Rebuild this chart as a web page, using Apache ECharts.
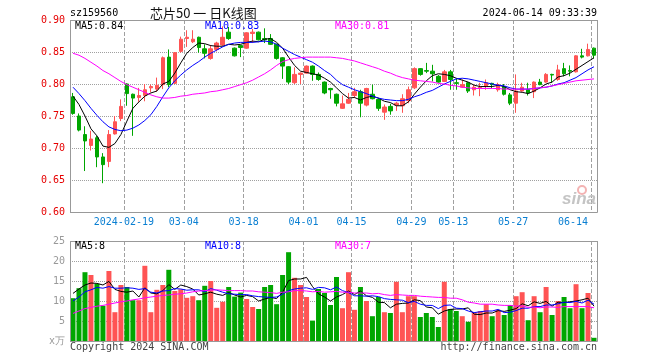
<!DOCTYPE html>
<html><head><meta charset="utf-8">
<script src="https://cdn.jsdelivr.net/npm/echarts@6/dist/echarts.min.js"></script>
<style>html,body{margin:0;padding:0;background:#fff}#c{width:660px;height:360px}</style>
</head><body><div id="c"></div>
<script>
const dates = ['2024-01-29','2024-01-30','2024-01-31','2024-02-01','2024-02-02','2024-02-05','2024-02-06','2024-02-07','2024-02-08','2024-02-19',
'2024-02-20','2024-02-21','2024-02-22','2024-02-23','2024-02-26','2024-02-27','2024-02-28','2024-02-29','2024-03-01','2024-03-04',
'2024-03-05','2024-03-06','2024-03-07','2024-03-08','2024-03-11','2024-03-12','2024-03-13','2024-03-14','2024-03-15','2024-03-18',
'2024-03-19','2024-03-20','2024-03-21','2024-03-22','2024-03-25','2024-03-26','2024-03-27','2024-03-28','2024-03-29','2024-04-01',
'2024-04-02','2024-04-03','2024-04-08','2024-04-09','2024-04-10','2024-04-11','2024-04-12','2024-04-15','2024-04-16','2024-04-17',
'2024-04-18','2024-04-19','2024-04-22','2024-04-23','2024-04-24','2024-04-25','2024-04-26','2024-04-29','2024-04-30','2024-05-06',
'2024-05-07','2024-05-08','2024-05-09','2024-05-10','2024-05-13','2024-05-14','2024-05-15','2024-05-16','2024-05-17','2024-05-20',
'2024-05-21','2024-05-22','2024-05-23','2024-05-24','2024-05-27','2024-05-28','2024-05-29','2024-05-30','2024-05-31','2024-06-03',
'2024-06-04','2024-06-05','2024-06-06','2024-06-07','2024-06-11','2024-06-12','2024-06-13','2024-06-14'];

const tickDates = ['2024-02-19','2024-03-04','2024-03-18','2024-04-01','2024-04-15','2024-04-29','2024-05-13','2024-05-27','2024-06-14'];
const tickLabels = ['2024-02-19','03-04','03-18','04-01','04-15','04-29','05-13','05-27','06-14'];
const priceTickLabels = ['0.60','0.65','0.70','0.75','0.80','0.85','0.90'];
const volTickLabels = ['x万','5','10','15','20','25'];

const open = [0.780,0.750,0.721,0.704,0.716,0.686,0.679,0.722,0.746,0.800,
0.784,0.779,0.782,0.794,0.792,0.799,0.842,0.801,0.851,0.871,
0.866,0.873,0.855,0.840,0.854,0.861,0.881,0.856,0.860,0.856,
0.879,0.881,0.871,0.871,0.862,0.841,0.827,0.802,0.815,0.817,
0.828,0.815,0.803,0.793,0.784,0.762,0.770,0.782,0.788,0.767,
0.784,0.776,0.756,0.765,0.767,0.766,0.774,0.794,0.824,0.821,
0.820,0.812,0.804,0.819,0.802,0.795,0.802,0.791,0.794,0.796,
0.801,0.791,0.796,0.783,0.770,0.789,0.791,0.788,0.803,0.803,
0.815,0.807,0.824,0.821,0.819,0.844,0.844,0.856];
const close = [0.754,0.728,0.711,0.714,0.686,0.674,0.721,0.741,0.765,0.785,
0.778,0.782,0.791,0.796,0.798,0.841,0.799,0.849,0.870,0.873,
0.870,0.857,0.848,0.855,0.864,0.873,0.871,0.844,0.857,0.880,
0.881,0.869,0.869,0.862,0.840,0.828,0.803,0.815,0.817,0.828,
0.815,0.807,0.786,0.791,0.770,0.769,0.776,0.788,0.770,0.793,
0.777,0.762,0.764,0.758,0.770,0.777,0.791,0.824,0.815,0.820,
0.816,0.803,0.819,0.807,0.801,0.799,0.789,0.795,0.795,0.802,
0.799,0.799,0.784,0.770,0.789,0.795,0.786,0.803,0.799,0.815,
0.814,0.822,0.816,0.820,0.844,0.842,0.854,0.845];
const high = [0.786,0.754,0.734,0.727,0.719,0.692,0.728,0.750,0.776,0.801,
0.785,0.794,0.800,0.799,0.810,0.843,0.854,0.850,0.874,0.884,
0.884,0.874,0.862,0.861,0.866,0.890,0.889,0.857,0.861,0.881,
0.886,0.882,0.887,0.878,0.863,0.842,0.828,0.826,0.818,0.829,
0.829,0.818,0.804,0.794,0.785,0.782,0.786,0.794,0.791,0.794,
0.799,0.778,0.768,0.769,0.772,0.784,0.796,0.826,0.825,0.833,
0.830,0.814,0.822,0.822,0.809,0.807,0.803,0.799,0.802,0.807,
0.802,0.802,0.800,0.786,0.815,0.802,0.802,0.804,0.808,0.817,
0.816,0.830,0.833,0.829,0.845,0.855,0.863,0.857];
const low = [0.752,0.726,0.664,0.696,0.670,0.645,0.670,0.721,0.742,0.766,
0.719,0.772,0.773,0.787,0.788,0.792,0.795,0.800,0.849,0.858,
0.864,0.849,0.840,0.838,0.851,0.859,0.869,0.843,0.842,0.855,
0.864,0.868,0.864,0.861,0.838,0.808,0.800,0.800,0.800,0.816,
0.805,0.805,0.784,0.777,0.765,0.761,0.769,0.778,0.748,0.765,
0.776,0.758,0.744,0.752,0.758,0.755,0.770,0.792,0.813,0.817,
0.804,0.802,0.803,0.791,0.791,0.794,0.786,0.782,0.781,0.791,
0.793,0.788,0.782,0.767,0.755,0.788,0.782,0.778,0.798,0.802,
0.802,0.805,0.812,0.812,0.818,0.840,0.843,0.840];

const ma5 = [0.781,0.768,0.750,0.730,0.719,0.703,0.701,0.707,0.721,0.742,
0.762,0.772,0.781,0.786,0.789,0.800,0.804,0.817,0.833,0.848,
0.857,0.864,0.863,0.860,0.859,0.859,0.862,0.861,0.862,0.865,
0.867,0.866,0.870,0.871,0.865,0.856,0.842,0.829,0.820,0.818,
0.816,0.814,0.809,0.803,0.794,0.785,0.778,0.779,0.775,0.779,
0.781,0.778,0.773,0.771,0.766,0.766,0.772,0.784,0.795,0.805,
0.813,0.816,0.815,0.813,0.809,0.806,0.803,0.798,0.796,0.796,
0.796,0.798,0.796,0.791,0.788,0.787,0.785,0.789,0.794,0.800,
0.803,0.811,0.813,0.817,0.823,0.829,0.835,0.841];
const ma10 = [0.795,0.785,0.774,0.762,0.751,0.741,0.733,0.729,0.727,0.728,
0.731,0.736,0.743,0.752,0.765,0.780,0.794,0.805,0.814,0.822,
0.829,0.835,0.842,0.848,0.853,0.858,0.862,0.864,0.865,0.865,
0.865,0.866,0.867,0.866,0.862,0.856,0.851,0.846,0.842,0.838,
0.834,0.828,0.821,0.815,0.806,0.799,0.795,0.791,0.788,0.785,
0.781,0.778,0.776,0.775,0.774,0.774,0.776,0.780,0.783,0.787,
0.790,0.795,0.800,0.804,0.808,0.809,0.808,0.806,0.804,0.802,
0.800,0.798,0.797,0.794,0.792,0.792,0.792,0.793,0.794,0.795,
0.797,0.800,0.802,0.806,0.810,0.816,0.822,0.827];
const ma30 = [0.848,0.845,0.840,0.834,0.828,0.821,0.816,0.810,0.804,0.799,
0.795,0.791,0.787,0.783,0.780,0.778,0.778,0.779,0.781,0.782,
0.784,0.785,0.786,0.788,0.789,0.791,0.793,0.796,0.799,0.802,
0.806,0.811,0.816,0.822,0.829,0.835,0.838,0.840,0.841,0.842,
0.842,0.842,0.842,0.842,0.841,0.840,0.838,0.836,0.833,0.830,
0.827,0.824,0.820,0.817,0.813,0.810,0.808,0.806,0.805,0.804,
0.803,0.801,0.800,0.798,0.797,0.795,0.794,0.793,0.793,0.793,
0.793,0.793,0.792,0.792,0.792,0.792,0.792,0.793,0.794,0.795,
0.797,0.799,0.801,0.803,0.805,0.806,0.807,0.808];

const vol = [10.7,13.2,17.2,16.5,14.3,8.8,17.5,7.2,14.0,13.5,
10.2,10.2,18.8,7.2,12.8,14.0,17.8,12.5,12.9,10.8,
11.2,10.2,13.8,15.0,8.3,9.8,13.5,11.1,12.1,10.5,
8.5,8.0,13.5,14.0,9.2,16.5,22.2,15.8,14.0,11.0,
5.1,13.0,12.0,9.0,16.0,8.2,17.2,7.8,13.5,10.0,
6.2,11.0,7.2,7.0,14.8,7.2,11.2,11.2,6.0,7.0,
6.0,3.5,14.8,8.0,7.5,6.2,4.8,7.2,7.5,9.2,
6.2,7.8,6.5,9.0,11.2,12.2,5.2,11.2,7.2,13.5,
6.5,10.0,11.0,8.2,14.2,8.2,12.0,0.8];
const volMa5 = [11.9,13.0,14.0,14.5,14.4,14.0,14.9,12.9,12.4,12.2,
12.5,11.0,13.3,12.0,11.8,12.6,14.1,12.9,14.0,13.6,
13.0,11.5,11.8,12.2,11.7,11.4,12.1,11.5,11.0,11.4,
11.1,10.0,10.5,10.9,10.6,12.2,15.1,15.5,15.5,15.9,
13.6,11.8,11.0,10.0,11.0,11.6,12.5,11.6,12.5,11.3,
10.9,9.7,9.6,8.3,9.2,9.4,9.5,10.3,10.1,8.5,
8.3,6.7,7.5,7.9,8.0,8.0,8.3,6.7,6.6,7.0,
7.0,7.6,7.4,7.7,8.1,9.3,8.8,9.8,9.4,9.9,
8.7,9.7,9.6,9.8,10.0,10.3,10.7,8.7];
const volMa10 = [10.0,11.0,12.3,12.8,13.4,13.2,13.6,13.2,13.2,13.3,
13.2,12.9,13.1,12.2,12.0,12.5,12.6,13.1,13.0,12.7,
12.8,12.8,12.3,13.1,12.7,12.2,11.8,11.7,11.6,11.6,
11.3,11.1,11.0,10.9,11.0,11.7,12.6,13.0,13.2,13.3,
12.9,13.4,13.3,12.8,13.5,12.6,12.1,11.3,11.3,11.2,
11.3,11.1,10.6,10.4,10.3,10.2,9.6,9.9,9.2,8.9,
8.9,8.1,8.9,9.0,8.2,8.1,7.5,7.1,7.3,7.5,
7.5,7.9,7.1,7.2,7.6,8.2,8.2,8.6,8.6,9.0,
9.0,9.3,9.7,9.6,9.9,9.5,10.2,9.2];
const volMa30 = [6.9,7.5,8.1,8.4,8.7,8.9,9.2,9.5,9.8,10.0,
10.3,10.5,10.8,11.0,11.2,11.4,11.5,11.7,11.8,12.0,
12.3,12.5,12.6,12.7,12.8,12.7,12.6,12.6,12.6,12.5,
12.5,12.3,12.2,12.1,11.9,12.2,12.3,12.6,12.6,12.5,
12.3,12.4,12.2,12.3,12.4,12.2,12.2,12.0,12.0,12.0,
11.8,11.9,11.6,11.4,11.6,11.5,11.4,11.4,11.2,11.1,
11.0,10.9,10.9,10.7,10.7,10.3,9.7,9.5,9.2,9.2,
9.2,9.0,8.9,8.9,8.7,8.8,8.4,8.5,8.3,8.5,
8.5,8.4,8.6,8.6,8.6,8.6,8.6,8.3];

const RED = '#ff5454', GREEN = '#00a600';
const MONO = 'DejaVu Sans Mono';
const GRIDC = '#a0a0a0';

const kData = dates.map((d, i) => [open[i], close[i], low[i], high[i]]);
const volData = vol.map((v, i) => ({ value: v, itemStyle: { color: close[i] >= open[i] ? RED : GREEN } }));
const showTick = (idx, val) => tickDates.indexOf(val) >= 0;

const chart = echarts.init(document.getElementById('c'), null, { renderer: 'canvas' });

function lineS(data, color, xi, yi) {
  return { type: 'line', xAxisIndex: xi, yAxisIndex: yi, data: data, symbol: 'none', showSymbol: false,
    lineStyle: { color: color, width: 1 }, itemStyle: { color: color }, z: 5, silent: true };
}
function txt(x, y, s, color, align, font) {
  return { type: 'text', x: x, y: y, silent: true, z: 100,
    style: { text: s, fill: color, font: font || ('10px ' + MONO), align: align || 'left', verticalAlign: 'middle' } };
}
function box(x, y, w, h) {
  return { type: 'rect', silent: true, z: 50, shape: { x: x + 0.5, y: y + 0.5, width: w, height: h },
    style: { fill: null, stroke: '#999', lineWidth: 1 } };
}

chart.setOption({
  animation: false,
  backgroundColor: '#fff',
  grid: [
    { left: 70, top: 20, width: 527, height: 192, show: false },
    { left: 70, top: 241, width: 527, height: 100, show: false }
  ],
  xAxis: [
    { type: 'category', gridIndex: 0, data: dates, boundaryGap: true,
      axisLine: { show: false }, axisTick: { show: false },
      axisLabel: { interval: showTick, formatter: v => tickLabels[tickDates.indexOf(v)], color: '#0a7fd2',
        fontFamily: MONO, fontSize: 10, margin: 5, padding: [0, 6, 0, 0], alignMaxLabel: 'right' },
      splitLine: { show: true, interval: showTick, lineStyle: { color: GRIDC, type: 'dashed', width: 1 } } },
    { type: 'category', gridIndex: 1, data: dates, boundaryGap: true,
      axisLine: { show: false }, axisTick: { show: false }, axisLabel: { show: false },
      splitLine: { show: true, interval: showTick, lineStyle: { color: GRIDC, type: 'dashed', width: 1 } } }
  ],
  yAxis: [
    { type: 'value', gridIndex: 0, min: 0.6, max: 0.9, interval: 0.05,
      axisLine: { show: false }, axisTick: { show: false },
      axisLabel: { color: '#e60000', fontFamily: MONO, fontSize: 10, margin: 5,
        formatter: v => priceTickLabels.find(s => Math.abs(parseFloat(s) - v) < 1e-6) || v.toFixed(2) },
      splitLine: { show: true, lineStyle: { color: GRIDC, type: 'dotted', width: 1 } } },
    { type: 'value', gridIndex: 1, min: 0, max: 25, interval: 5,
      axisLine: { show: false }, axisTick: { show: false },
      axisLabel: { color: '#999', fontFamily: MONO, fontSize: 10, margin: 5,
        formatter: v => volTickLabels[Math.round(v / 5)] },
      splitLine: { show: true, lineStyle: { color: GRIDC, type: 'dotted', width: 1 } } }
  ],
  series: [
    { type: 'candlestick', xAxisIndex: 0, yAxisIndex: 0, data: kData, barWidth: 4, silent: true,
      itemStyle: { color: RED, color0: GREEN, borderColor: RED, borderColor0: GREEN, borderWidth: 1 } },
    lineS(ma5, '#000000', 0, 0),
    lineS(ma10, '#0000ff', 0, 0),
    lineS(ma30, '#ff00ff', 0, 0),
    { type: 'bar', xAxisIndex: 1, yAxisIndex: 1, data: volData, barWidth: 5, silent: true },
    lineS(volMa5, '#000000', 1, 1),
    lineS(volMa10, '#0000ff', 1, 1),
    lineS(volMa30, '#ff00ff', 1, 1)
  ],
  graphic: [
    box(70, 20, 527, 192),
    box(70, 241, 527, 100),
    txt(70, 13, 'sz159560', '#000'),
    txt(150, 13, '芯片50 一 日K线图', '#111', 'left', '13px "Noto Sans CJK SC"'),
    txt(597, 13, '2024-06-14 09:33:39', '#000', 'right'),
    txt(75, 26, 'MA5:0.84', '#000'),
    txt(205, 26, 'MA10:0.83', '#0000ff'),
    txt(335, 26, 'MA30:0.81', '#ff00ff'),
    txt(75, 246, 'MA5:8', '#000'),
    txt(205, 246, 'MA10:8', '#0000ff'),
    txt(335, 246, 'MA30:7', '#ff00ff'),
    txt(70, 347, 'Copyright 2024 SINA.COM', '#444'),
    txt(597, 347, 'http://finance.sina.com.cn', '#444', 'right'),
    { type: 'circle', shape: { cx: 582, cy: 190, r: 4 }, silent: true, z: 1,
      style: { fill: null, stroke: '#f3b3b3', lineWidth: 2 } },
    txt(596, 199, 'sina', '#c4c4c4', 'right', 'italic bold 17px "Liberation Sans"')
  ]
});
</script></body></html>
